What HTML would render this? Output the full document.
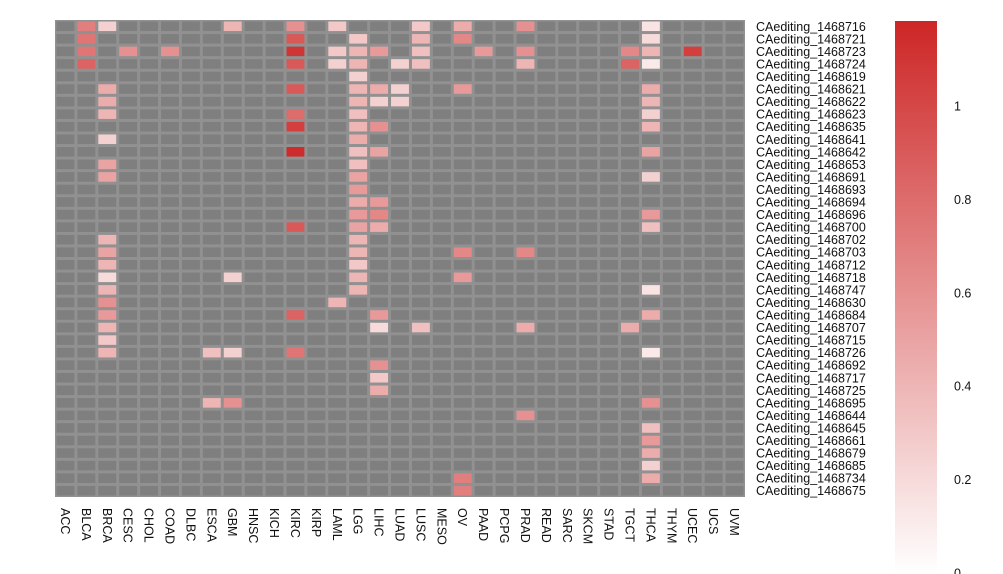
<!DOCTYPE html>
<html><head><meta charset="utf-8"><style>
body{margin:0;background:#fff;font-family:"Liberation Sans",sans-serif;}
svg{display:block}
text{font-family:"Liberation Sans",sans-serif;fill:#111;}
</style></head><body>
<svg id="chart" width="1003" height="574">
<defs><linearGradient id="cb" x1="0" y1="1" x2="0" y2="0">
<stop offset="0" stop-color="#ffffff"/><stop offset="1" stop-color="#cd2626"/></linearGradient></defs>
<rect x="55" y="20" width="690" height="477" fill="#919191"/>
<g id="cells"></g><g id="rlabels"></g><g id="clabels"></g>
<rect x="895" y="21" width="42" height="553" fill="url(#cb)"/>
<g id="cticks"></g>
</svg>
<script>
const cancers=["ACC","BLCA","BRCA","CESC","CHOL","COAD","DLBC","ESCA","GBM","HNSC","KICH","KIRC","KIRP","LAML","LGG","LIHC","LUAD","LUSC","MESO","OV","PAAD","PCPG","PRAD","READ","SARC","SKCM","STAD","TGCT","THCA","THYM","UCEC","UCS","UVM"];
const sites=["1468716","1468721","1468723","1468724","1468619","1468621","1468622","1468623","1468635","1468641","1468642","1468653","1468691","1468693","1468694","1468696","1468700","1468702","1468703","1468712","1468718","1468747","1468630","1468684","1468707","1468715","1468726","1468692","1468717","1468725","1468695","1468644","1468645","1468661","1468679","1468685","1468734","1468675"];
// [row, column, value]
const values=[
[0,1,0.7],[0,2,0.25],[0,8,0.4],[0,11,0.6],[0,13,0.3],[0,17,0.3],[0,19,0.45],[0,22,0.6],[0,28,0.15],
[1,1,0.75],[1,11,0.9],[1,14,0.3],[1,17,0.4],[1,19,0.65],[1,28,0.2],
[2,1,0.75],[2,3,0.6],[2,5,0.6],[2,11,1.1],[2,13,0.3],[2,14,0.4],[2,15,0.55],[2,17,0.35],[2,20,0.55],[2,22,0.6],[2,27,0.65],[2,28,0.4],[2,30,1.05],
[3,1,0.85],[3,11,0.9],[3,13,0.25],[3,14,0.4],[3,16,0.25],[3,17,0.35],[3,22,0.4],[3,27,0.85],[3,28,0.12],
[4,14,0.25],
[5,2,0.45],[5,11,0.9],[5,14,0.4],[5,15,0.45],[5,16,0.25],[5,19,0.55],[5,28,0.45],
[6,2,0.45],[6,14,0.4],[6,15,0.25],[6,16,0.25],[6,28,0.4],
[7,2,0.4],[7,11,0.8],[7,14,0.35],[7,28,0.25],
[8,11,1.05],[8,14,0.4],[8,15,0.6],[8,28,0.4],
[9,2,0.25],[9,14,0.45],
[10,11,1.15],[10,14,0.35],[10,15,0.5],[10,28,0.5],
[11,2,0.5],[11,14,0.35],
[12,2,0.5],[12,14,0.5],[12,28,0.25],
[13,14,0.55],
[14,14,0.45],[14,15,0.55],
[15,14,0.55],[15,15,0.65],[15,28,0.55],
[16,11,0.9],[16,14,0.5],[16,15,0.45],[16,28,0.35],
[17,2,0.4],[17,14,0.4],
[18,2,0.5],[18,14,0.4],[18,19,0.65],[18,22,0.65],
[19,2,0.4],[19,14,0.3],
[20,2,0.2],[20,8,0.25],[20,14,0.4],[20,19,0.55],
[21,2,0.4],[21,14,0.4],[21,28,0.15],
[22,2,0.6],[22,13,0.4],
[23,2,0.55],[23,11,0.85],[23,15,0.55],[23,28,0.45],
[24,2,0.4],[24,15,0.2],[24,17,0.35],[24,22,0.45],[24,27,0.45],
[25,2,0.3],
[26,2,0.4],[26,7,0.35],[26,8,0.25],[26,11,0.75],[26,28,0.12],
[27,15,0.6],[28,15,0.3],[29,15,0.45],
[30,7,0.4],[30,8,0.6],[30,28,0.6],
[31,22,0.6],[32,28,0.35],[33,28,0.55],[34,28,0.45],[35,28,0.25],
[36,19,0.7],[36,28,0.45],[37,19,0.7]
];
const colorTicks=[0,0.2,0.4,0.6,0.8,1];
const VMAX=1.18;
const X0=55,Y0=20,W=690,H=477;
const cw=W/cancers.length, ch=H/sites.length;
const xPos=c=>X0+c*cw, yPos=r=>Y0+r*ch;
const cbY=v=>573-v*(573-106);
function color(v){const t=Math.min(v/VMAX,1);
return `rgb(${Math.round(255-t*(255-205))},${Math.round(255-t*(255-38))},${Math.round(255-t*(255-38))})`;}
const ns="http://www.w3.org/2000/svg";
const cells=document.getElementById('cells');
const lookup={};values.forEach(d=>lookup[d[0]+'_'+d[1]]=d[2]);
for(let r=0;r<sites.length;r++)for(let c=0;c<cancers.length;c++){
const el=document.createElementNS(ns,'rect');
el.setAttribute('x',xPos(c)+1.5);el.setAttribute('y',yPos(r)+1.5);
el.setAttribute('width',cw-3);el.setAttribute('height',ch-3);
const v=lookup[r+'_'+c];
el.setAttribute('fill',v===undefined?'#7f7f7f':color(v));


cells.appendChild(el);}
const rl=document.getElementById('rlabels');
sites.forEach((s,r)=>{const t=document.createElementNS(ns,'text');
t.setAttribute('x',756);t.setAttribute('y',yPos(r)+ch/2+4.5);t.setAttribute('font-size','12.5');
t.textContent='CAediting_'+s;


rl.appendChild(t);});
const cl=document.getElementById('clabels');
cancers.forEach((s,c)=>{const t=document.createElementNS(ns,'text');
const x=xPos(c)+cw/2-4.5,y=508;
t.setAttribute('x',x);t.setAttribute('y',y);t.setAttribute('font-size','12.5');
t.setAttribute('transform',`rotate(90 ${x} ${y})`);
t.textContent=s;


cl.appendChild(t);});
const ct=document.getElementById('cticks');
colorTicks.forEach(v=>{const t=document.createElementNS(ns,'text');
t.setAttribute('x',954);t.setAttribute('y',cbY(v)+4.5);t.setAttribute('font-size','12.5');
t.textContent=String(v);


ct.appendChild(t);});
</script>
</body></html>
